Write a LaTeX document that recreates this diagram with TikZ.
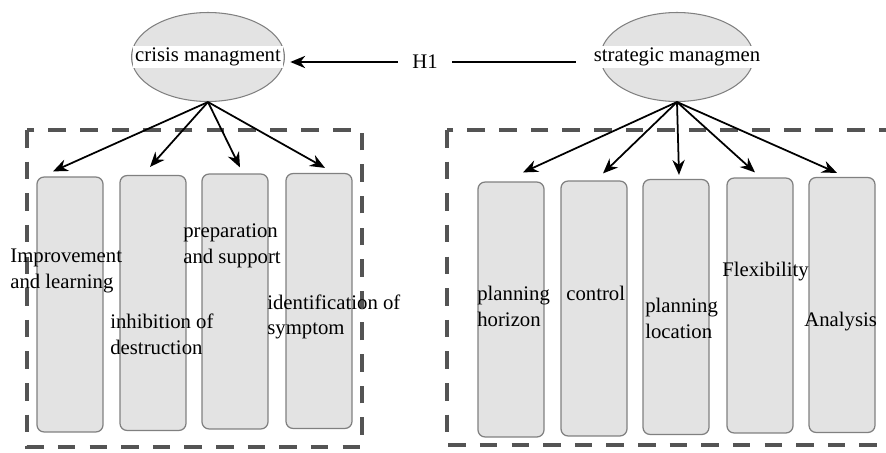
\documentclass[tikz,border=0pt]{standalone}
\usepackage{fontspec}
\setmainfont{Liberation Serif}
\usetikzlibrary{shapes.geometric,arrows.meta}

\begin{document}
\begin{tikzpicture}[x=0.02cm, y=-0.02cm,
	latent/.style={ellipse, draw=linecol, fill=boxcol, line width=0.6pt, minimum width=3.06cm, minimum height=1.78cm, inner sep=0pt},
	indicator/.style={draw=linecol, fill=boxcol, rounded corners=4pt, line width=0.7pt, minimum width=1.32cm, minimum height=5.1cm, inner sep=0pt},
	txt/.style={inner sep=0pt, align=left, font=\fontsize{11.8}{14.7}\selectfont},
	lbl/.style={txt, anchor=west},
	group/.style={draw=dashcol, line width=2.3pt, dash pattern=on 10pt off 8pt},
	link/.style={-{Stealth[length=8.5pt, width=7pt]}, line width=1pt}]
	\definecolor{linecol}{gray}{0.5}
	\definecolor{boxcol}{gray}{0.89}
	\definecolor{dashcol}{gray}{0.33}
	\useasboundingbox (0,0) rectangle (886,453);
	
	% dashed groups
	\draw[group] (27,130) rectangle (362,447);
	\draw[group] (447,130) rectangle (910,445);
	
	% latent variables
	\node[latent] (cm) at (208,57) {};
	\node[latent] (sm) at (677,57) {};
	\node[txt, fill=white, inner sep=1pt] (cmtxt) at (cm) {crisis managment};
	\node[txt, fill=white, inner sep=1pt] (smtxt) at (sm) {strategic managmen};
	\node[txt, inner xsep=8pt] (h1) at (425,62) {H1};
	\draw[link, shorten >=3pt] (h1.west) -- (h1.west -| cm.east);
	\draw[line width=1pt, shorten >=9pt] (h1.east) -- (h1.east -| smtxt.west);
	
	% indicators of crisis managment
	\foreach \n/\x/\y/\dx/\dy in {c1/70/304.5/-17/-5, c2/153/303/-3/-8, c3/235/301.5/5/-6, c4/319/301/6/-5} {
		\node[indicator] (\n) at (\x,\y) {};
		\draw[link] (cm.south) -- ([shift={(\dx,\dy)}]\n.north);
	}
	% indicators of strategic managmen
	\foreach \n/\x/\y/\dx/\dy in {s1/511/309.5/12/-9, s2/594/308.5/9/-7, s3/676/307/3/-4, s4/760/305.5/-5/-5, s5/842/305/-5/-4} {
		\node[indicator] (\n) at (\x,\y) {};
		\draw[link] (sm.south) -- ([shift={(\dx,\dy)}]\n.north);
	}
	
	\node[lbl] (l1) at (10,271) {Improvement\\and learning};
	\node[lbl] (l2) at (110,334) {inhibition of\\destruction};
	\node[lbl] (l3) at (183,246) {preparation\\and support};
	\node[lbl] (l4) at (267,317) {identification of\\symptom};
	\node[lbl] (r1) at (477,306) {planning\\horizon};
	\node[lbl] (r2) at (566,293) {control};
	\node[lbl] (r3) at (645,318) {planning\\location};
	\node[lbl] (r4) at (722,272) {Flexibility};
	\node[lbl] (r5) at (804,322) {Analysis};
\end{tikzpicture}
\end{document}
